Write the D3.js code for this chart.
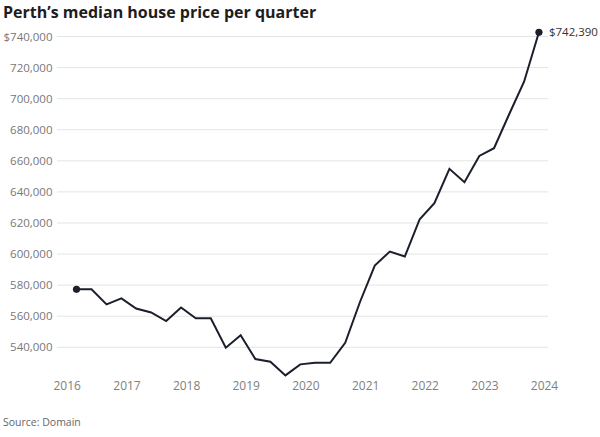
<!DOCTYPE html>
<html>
<head>
<meta charset="utf-8">
<script src="https://cdn.jsdelivr.net/npm/d3@7"></script>
<style>
  html, body { margin: 0; padding: 0; background: #fff; }
  svg { display: block; }
</style>
</head>
<body>
<svg id="chart" width="600" height="437"></svg>
<script>
const quarters = [
  "2016-03-01","2016-06-01","2016-09-01","2016-12-01",
  "2017-03-01","2017-06-01","2017-09-01","2017-12-01",
  "2018-03-01","2018-06-01","2018-09-01","2018-12-01",
  "2019-03-01","2019-06-01","2019-09-01","2019-12-01",
  "2020-03-01","2020-06-01","2020-09-01","2020-12-01",
  "2021-03-01","2021-06-01","2021-09-01","2021-12-01",
  "2022-03-01","2022-06-01","2022-09-01","2022-12-01",
  "2023-03-01","2023-06-01","2023-09-01","2023-12-01"
];
const medianPrice = [
  577000, 577000, 567300, 571200,
  564600, 562100, 556600, 565300,
  558400, 558400, 539400, 547400,
  532100, 530400, 521600, 528700,
  529700, 529700, 542600, 569000,
  592300, 601300, 598100, 622100,
  632400, 654500, 645900, 662800,
  667800, 689500, 710600, 742390
];
const yTicks = [540000, 560000, 580000, 600000, 620000, 640000, 660000, 680000, 700000, 720000, 740000];
const xTickYears = [2016, 2017, 2018, 2019, 2020, 2021, 2022, 2023, 2024];
const titleText = "Perth\u2019s median house price per quarter";
const sourceText = "Source: Domain";

const parse = d3.utcParse("%Y-%m-%d");
const data = quarters.map((q, i) => ({ date: parse(q), value: medianPrice[i] }));

const svg = d3.select("#chart");
const font = "'Open Sans', 'Noto Sans', sans-serif";

const x = d3.scaleUtc()
  .domain([new Date(Date.UTC(2016, 0, 1)), new Date(Date.UTC(2024, 0, 1))])
  .range([66.7, 544]);
const y = d3.scaleLinear()
  .domain([540000, 740000])
  .range([346.8, 36]);

// Title
svg.append("text")
  .attr("x", 3).attr("y", 18)
  .attr("font-family", font)
  .attr("font-weight", 700)
  .attr("font-size", 16)
  .attr("fill", "#1d1d1d")
  .text(titleText);

// Gridlines + y labels
const yAxis = d3.axisLeft(y)
  .tickValues(yTicks)
  .tickSize(0)
  .tickPadding(0)
  .tickFormat(d => (d === 740000 ? "$" : "") + d3.format(",")(d));
const gy = svg.append("g").attr("transform", "translate(52.5,0)").call(yAxis);
gy.select(".domain").remove();
gy.selectAll(".tick text")
  .attr("font-family", font)
  .attr("font-size", 11.5)
  .attr("fill", "#777")
  .attr("dy", "0.35em")
  .attr("x", 0);
gy.selectAll(".tick").append("line")
  .attr("x1", 4.5).attr("x2", 548 - 52.5)
  .attr("stroke", "#e4e4e4").attr("stroke-width", 1);

// X axis labels
const xAxis = d3.axisBottom(x)
  .tickValues(xTickYears.map(yr => new Date(Date.UTC(yr, 0, 1))))
  .tickSize(0)
  .tickPadding(0)
  .tickFormat(d3.utcFormat("%Y"));
const gx = svg.append("g").attr("transform", "translate(0,381)").call(xAxis);
gx.select(".domain").remove();
gx.selectAll(".tick text")
  .attr("font-family", font)
  .attr("font-size", 12)
  .attr("fill", "#808080");

// Line
const line = d3.line().x(d => x(d.date)).y(d => y(d.value));
svg.append("path")
  .datum(data)
  .attr("fill", "none")
  .attr("stroke", "#1b1f2b")
  .attr("stroke-width", 2)
  .attr("stroke-linejoin", "miter")
  .attr("d", line);

// End dots
const ends = [data[0], data[data.length - 1]];
svg.selectAll("circle.end").data(ends).enter().append("circle")
  .attr("class", "end")
  .attr("cx", d => x(d.date))
  .attr("cy", d => y(d.value))
  .attr("r", 3.6)
  .attr("fill", "#1b1f2b");

// Last value label
const last = data[data.length - 1];
svg.append("text")
  .attr("x", x(last.date) + 10)
  .attr("y", y(last.value))
  .attr("dy", "0.35em")
  .attr("font-family", font)
  .attr("font-size", 11.5)
  .attr("fill", "#333")
  .text("$" + d3.format(",")(last.value));

// Source
svg.append("text")
  .attr("x", 3).attr("y", 426)
  .attr("font-family", font)
  .attr("font-size", 10.5)
  .attr("fill", "#666")
  .text(sourceText);
</script>
</body>
</html>
